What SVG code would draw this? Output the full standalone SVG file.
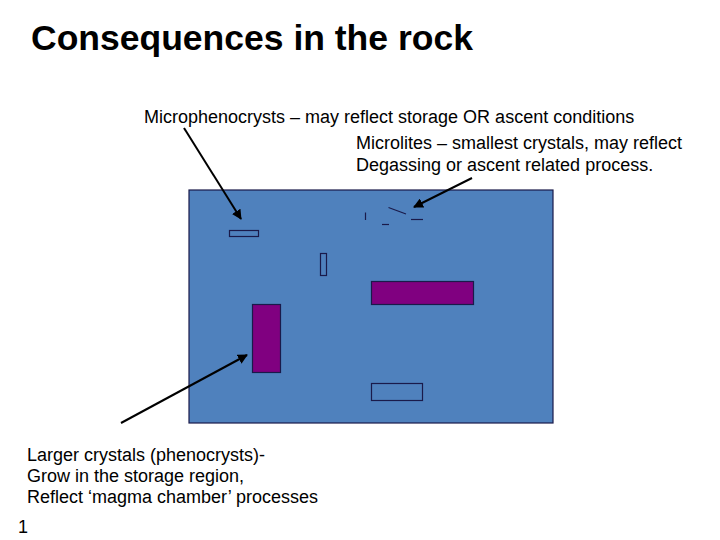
<svg xmlns="http://www.w3.org/2000/svg" width="720" height="540" viewBox="0 0 720 540">
<defs>
<marker id="ah" viewBox="0 0 10 10" refX="9" refY="5" markerWidth="5" markerHeight="5" orient="auto" markerUnits="strokeWidth">
<path d="M0,0 L10,5 L0,10 z" fill="#000"/>
</marker>
<style>
text{font-family:"Liberation Sans",Arial,sans-serif;fill:#000}
.t{font-size:35.5px;font-weight:bold}
.b{font-size:18px}
.x{stroke:#1a1a4a;stroke-width:1.2;fill:none}
.p{fill:#800080;stroke:#1a1a4a;stroke-width:1.2}
.o{fill:none;stroke:#1a1a4a;stroke-width:1.2}
.c{stroke:#000;stroke-width:2;fill:none;marker-end:url(#ah)}
</style>
</defs>
<rect width="720" height="540" fill="#fff"/>
<text class="t" x="31" y="50">Consequences in the rock</text>
<g id="rock">
<rect x="189" y="190" width="364" height="233" fill="#4f81bd" stroke="#1a1a4a" stroke-width="1.2"/>
</g>
<g id="microphenocryst1"><rect class="o" x="229.5" y="230.5" width="29" height="6"/></g>
<g id="microphenocryst2"><rect class="o" x="320.5" y="253.5" width="6" height="22"/></g>
<g id="microphenocryst3"><rect class="o" x="371.5" y="383.5" width="51" height="17"/></g>
<g id="phenocryst1"><rect class="p" x="371.5" y="281.5" width="102" height="23"/></g>
<g id="phenocryst2"><rect class="p" x="252.5" y="304.5" width="28" height="68"/></g>
<g id="microlites">
<line class="x" x1="365.5" y1="212.5" x2="365.5" y2="220"/>
<line class="x" x1="388.5" y1="207.5" x2="406" y2="214"/>
<line class="x" x1="382" y1="224.5" x2="389" y2="224.5"/>
<line class="x" x1="411" y1="219.5" x2="423" y2="219.5"/>
</g>
<g id="label-microphenocrysts">
<text class="b" x="144" y="123">Microphenocrysts – may reflect storage OR ascent conditions</text>
</g>
<g id="label-microlites">
<text class="b" x="356" y="149">Microlites – smallest crystals, may reflect</text>
<text class="b" x="356" y="171">Degassing or ascent related process.</text>
</g>
<g id="label-phenocrysts">
<text class="b" x="27" y="461">Larger crystals (phenocrysts)-</text>
<text class="b" x="27" y="482">Grow in the storage region,</text>
<text class="b" x="27" y="503">Reflect ‘magma chamber’ processes</text>
</g>
<text class="b" x="18" y="533">1</text>
<g id="connectors">
<line class="c" x1="184" y1="128" x2="241" y2="219"/>
<line class="c" x1="472" y1="178" x2="414" y2="207"/>
<line class="c" x1="121" y1="423" x2="247" y2="355"/>
</g>
</svg>
